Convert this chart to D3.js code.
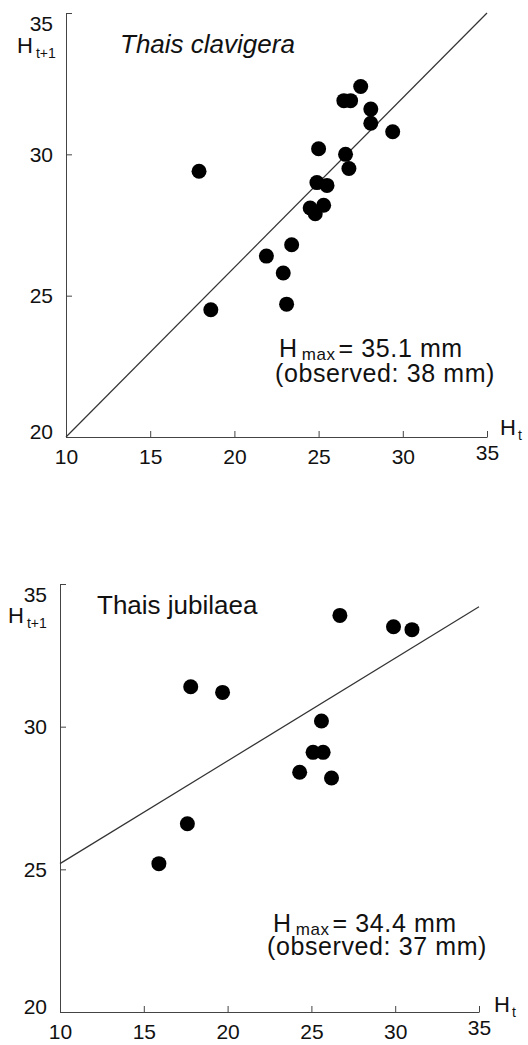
<!DOCTYPE html>
<html>
<head>
<meta charset="utf-8">
<script src="https://cdn.jsdelivr.net/npm/d3@7"></script>
<style>
  body { margin: 0; background: #fff; }
  svg { display: block; font-family: "Liberation Sans", Arial, sans-serif; }
  .axis path, .axis line { stroke: #444; stroke-width: 1; }
  .axis text { font-size: 21px; fill: #111; font-family: "Liberation Sans", Arial, sans-serif; }
  .fit-line { stroke: #333; stroke-width: 1.2; fill: none; }
  .dot { fill: #000; }
  .chart-text { fill: #111; }
</style>
</head>
<body>
<svg id="chart"></svg>
<script>
// Tick values shared by both panels
const xTicks = [10, 15, 20, 25, 30, 35];
const yTicks = [20, 25, 30, 35];

// Thais clavigera: shell height at t and t+1 (mm)
const clavigeraHt  = [17.9, 18.6, 21.9, 22.9, 23.1, 23.4, 24.5, 24.8, 25.3, 24.9, 25.5, 25.0, 26.5, 26.9, 26.6, 26.8, 27.5, 28.1, 28.1, 29.4];
const clavigeraHt1 = [29.4, 24.5, 26.4, 25.8, 24.7, 26.8, 28.1, 27.9, 28.2, 29.0, 28.9, 30.2, 31.9, 31.9, 30.0, 29.5, 32.4, 31.6, 31.1, 30.8];
const clavigeraFit = [14.0, 0.6];   // intercept, slope
const clavigeraNotes = ['35.1 mm', '(observed: 38 mm)'];

// Thais jubilaea
const jubilaeaHt  = [15.9, 17.6, 17.8, 19.7, 24.3, 25.1, 25.7, 25.6, 26.2, 26.7, 29.9, 31.0];
const jubilaeaHt1 = [25.2, 26.6, 31.4, 31.2, 28.4, 29.1, 29.1, 30.2, 28.2, 33.9, 33.5, 33.4];
const jubilaeaFit = [21.6, 0.36];
const jubilaeaNotes = ['34.4 mm', '(observed: 37 mm)'];

class WalfordChart {

  constructor(_config, _data) {
    this.config = _config;
    this.data = _data;
    this.initVis();
  }

  initVis() {
    let vis = this;
    let c = vis.config;

    vis.g = d3.select('#chart').append('g');

    vis.xScale = d3.scaleLinear().domain([10, 35]).range(c.xRange);
    vis.yScale = d3.scaleLinear().domain([20, 35]).range(c.yRange);

    // axes with inward ticks
    vis.xAxis = d3.axisBottom(vis.xScale)
      .tickValues(xTicks)
      .tickSize(-6)
      .tickSizeOuter(0)
      .tickPadding(12);

    vis.yAxis = d3.axisLeft(vis.yScale)
      .tickValues(yTicks)
      .tickSize(-6)
      .tickSizeOuter(0)
      .tickPadding(13);

    vis.renderVis();
  }

  renderVis() {
    let vis = this;
    let c = vis.config;
    let x = vis.xScale, y = vis.yScale;

    vis.g.append('g')
      .attr('class', 'axis')
      .attr('transform', `translate(0,${c.yRange[0]})`)
      .call(vis.xAxis)
      .call(g => g.selectAll('.tick text')
        .attr('dy', d => d === 35 ? '0.52em' : '0.71em'));

    vis.g.append('g')
      .attr('class', 'axis')
      .attr('transform', `translate(${c.xRange[0]},0)`)
      .call(vis.yAxis)
      .call(g => g.selectAll('.tick text')
        .attr('dy', d => d === 35 ? '0.85em' : (d === 20 ? '0.05em' : '0.32em')));

    // fitted Walford line
    let fit = d => c.fit[0] + c.fit[1] * d;
    vis.g.append('line')
      .attr('class', 'fit-line')
      .attr('x1', x(10)).attr('y1', y(fit(10)))
      .attr('x2', x(35)).attr('y2', y(fit(35)));

    vis.g.selectAll('.dot')
      .data(vis.data.ht)
      .join('circle')
      .attr('class', 'dot')
      .attr('cx', d => x(d))
      .attr('cy', (d, i) => y(vis.data.ht1[i]))
      .attr('r', 7.5);

    // species name
    vis.g.append('text')
      .attr('class', 'chart-text')
      .attr('x', c.titlePos[0])
      .attr('y', c.titlePos[1])
      .attr('font-size', 26)
      .attr('font-style', c.italic ? 'italic' : 'normal')
      .text(c.title);

    // axis titles
    let yl = vis.g.append('text')
      .attr('class', 'chart-text')
      .attr('x', c.yLabelPos[0])
      .attr('y', c.yLabelPos[1])
      .attr('font-size', 22);
    yl.append('tspan').text('H');
    yl.append('tspan').attr('font-size', 14).attr('dx', 3).attr('dy', 5).text('t+1');

    let xl = vis.g.append('text')
      .attr('class', 'chart-text')
      .attr('x', c.xLabelPos[0])
      .attr('y', c.xLabelPos[1])
      .attr('font-size', 22);
    xl.append('tspan').text('H');
    xl.append('tspan').attr('font-size', 14).attr('dx', 2).attr('dy', 5).text('t');

    // Hmax note
    let n1 = vis.g.append('text')
      .attr('class', 'chart-text')
      .attr('x', c.notePos[0])
      .attr('y', c.notePos[1])
      .attr('font-size', 25)
      .attr('letter-spacing', 0.6);
    n1.append('tspan').text('H');
    n1.append('tspan').attr('font-size', 17).attr('dx', 4).attr('dy', 3).text('max');
    n1.append('tspan').attr('dx', 3).attr('dy', -3).text('= ' + c.notes[0]);

    vis.g.append('text')
      .attr('class', 'chart-text')
      .attr('x', c.notePos[2])
      .attr('y', c.notePos[3])
      .attr('font-size', 25)
      .attr('letter-spacing', 0.6)
      .text(c.notes[1]);
  }
}

d3.select('#chart').attr('width', 528).attr('height', 1045);

new WalfordChart({
  xRange: [66, 487], yRange: [437, 13],
  fit: clavigeraFit, notes: clavigeraNotes,
  title: 'Thais clavigera', italic: true, titlePos: [120, 53],
  yLabelPos: [17, 53], xLabelPos: [500, 435],
  notePos: [279, 357, 275, 382]
}, { ht: clavigeraHt, ht1: clavigeraHt1 });

new WalfordChart({
  xRange: [60, 479], yRange: [1012, 584],
  fit: jubilaeaFit, notes: jubilaeaNotes,
  title: 'Thais jubilaea', italic: false, titlePos: [97, 614],
  yLabelPos: [8, 623], xLabelPos: [494, 1012],
  notePos: [273, 932, 267, 955]
}, { ht: jubilaeaHt, ht1: jubilaeaHt1 });
</script>
</body>
</html>
